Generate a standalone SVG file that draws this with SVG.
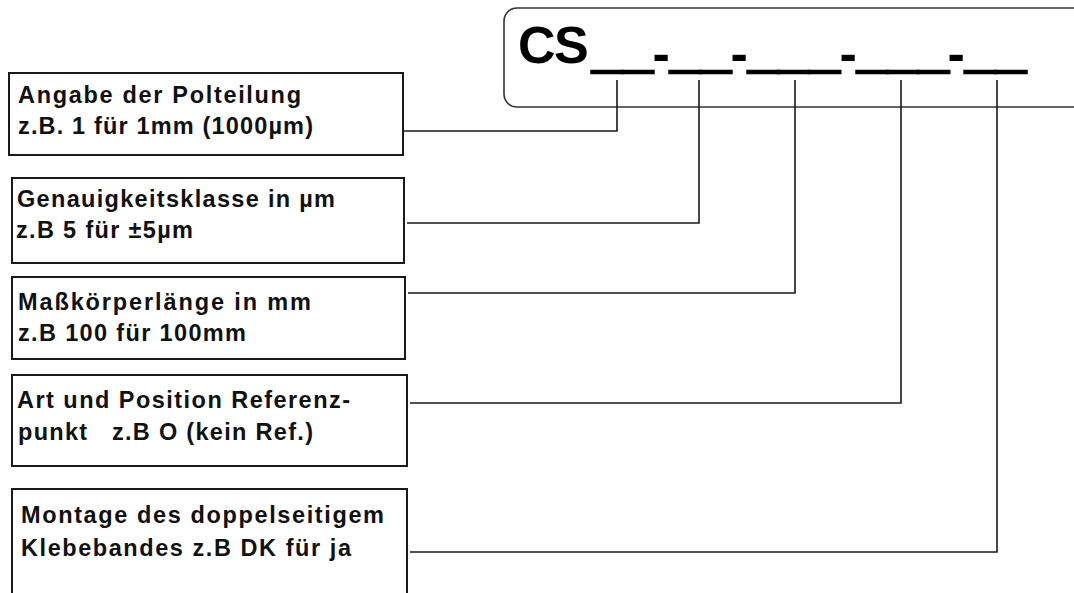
<svg xmlns="http://www.w3.org/2000/svg" width="1074" height="593" viewBox="0 0 1074 593">
<style>
.box{fill:#fff;stroke:#1a1a1a;stroke-width:2}
.conn{fill:none;stroke:#1a1a1a;stroke-width:1.6}
.t{font-family:"Liberation Sans",Arial,sans-serif;font-weight:bold;font-size:23.5px;fill:#111}
.code{font-family:"Liberation Sans",Arial,sans-serif;font-weight:bold;font-size:55px;fill:#000}
.us{stroke:#000;stroke-width:2.4}
</style>
<rect width="1074" height="593" fill="#fff"/>
<g id="code">
<rect x="504" y="8" width="585" height="99" rx="13" ry="13" fill="#fff" stroke="#333" stroke-width="1.6"/>
<text class="code" y="63"><tspan x="518 554" font-size="52">CS</tspan><tspan class="us" x="592" y="66">__</tspan><tspan x="652.5" y="71" font-size="52">-</tspan><tspan class="us" x="670" y="66">__</tspan><tspan x="730.5" y="71" font-size="52">-</tspan><tspan class="us" x="748" y="66">___</tspan><tspan x="839.5" y="71" font-size="52">-</tspan><tspan class="us" x="857" y="66">___</tspan><tspan x="947.5" y="71" font-size="52">-</tspan><tspan class="us" x="965" y="66">__</tspan></text>
</g>
<g id="connectors">
<path class="conn" d="M617,80 V131 H403"/>
<path class="conn" d="M699,80 V223 H407"/>
<path class="conn" d="M795,80 V293 H408"/>
<path class="conn" d="M901,80 V403 H410"/>
<path class="conn" d="M997,80 V552 H410"/>
</g>
<g id="n1">
<rect class="box" x="9" y="73" width="394" height="82"/>
<text class="t" x="18" y="103" textLength="283" lengthAdjust="spacing">Angabe der Polteilung</text>
<text class="t" x="18" y="134" textLength="295" lengthAdjust="spacing">z.B. 1 für 1mm (1000µm)</text>
</g>
<g id="n2">
<rect class="box" x="12" y="178" width="392" height="85"/>
<text class="t" x="17" y="207" textLength="318" lengthAdjust="spacing">Genauigkeitsklasse in µm</text>
<text class="t" x="16" y="238" textLength="177" lengthAdjust="spacing">z.B 5 für ±5µm</text>
</g>
<g id="n3">
<rect class="box" x="12" y="277" width="393" height="82"/>
<text class="t" x="18" y="310" textLength="293" lengthAdjust="spacing">Maßkörperlänge in mm</text>
<text class="t" x="18" y="341" textLength="228" lengthAdjust="spacing">z.B 100 für 100mm</text>
</g>
<g id="n4">
<rect class="box" x="12" y="375" width="395" height="91"/>
<text class="t" x="17" y="408" textLength="333" lengthAdjust="spacing">Art und Position Referenz-</text>
<text class="t" x="18" y="440" textLength="295" lengthAdjust="spacing" xml:space="preserve">punkt   z.B O (kein Ref.)</text>
</g>
<g id="n5">
<rect class="box" x="12" y="489" width="395" height="120"/>
<text class="t" x="21" y="523" textLength="363" lengthAdjust="spacing">Montage des doppelseitigem</text>
<text class="t" x="21" y="556" textLength="330" lengthAdjust="spacing">Klebebandes z.B DK für ja</text>
</g>
</svg>
